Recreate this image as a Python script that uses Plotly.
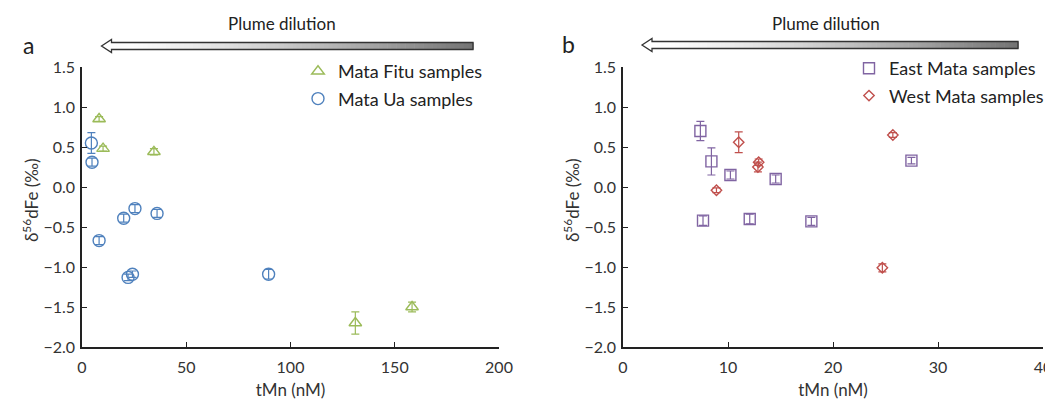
import plotly.graph_objects as go

W, H = 1053, 406
OFF = 8  # page body margin of the browser

# ---------------- data ----------------
fitu_x = [8.2, 10.1, 34.5, 131.1, 158.3]
fitu_y = [0.85, 0.48, 0.44, -1.70, -1.50]
fitu_err = [0.03, 0.03, 0.04, 0.14, 0.06]

ua_x = [4.5, 4.8, 20.0, 25.4, 36.0, 8.2, 22.1, 24.2, 89.5]
ua_y = [0.55, 0.31, -0.39, -0.27, -0.33, -0.67, -1.13, -1.09, -1.09]
ua_err = [0.13, 0.05, 0.05, 0.05, 0.05, 0.05, 0.04, 0.04, 0.06]

east_x = [7.37, 8.42, 10.23, 14.54, 7.62, 12.07, 17.94, 27.47]
east_y = [0.70, 0.32, 0.15, 0.10, -0.42, -0.40, -0.43, 0.33]
east_err = [0.12, 0.17, 0.05, 0.05, 0.06, 0.06, 0.05, 0.04]

west_x = [11.02, 12.92, 12.85, 8.9, 25.7, 24.7]
west_y = [0.56, 0.31, 0.25, -0.04, 0.65, -1.01]
west_err = [0.13, 0.04, 0.06, 0.03, 0.03, 0.05]

y_ticks = [-2.0, -1.5, -1.0, -0.5, 0.0, 0.5, 1.0, 1.5]

GREEN = "#9BBB59"
BLUE = "#4F81BD"
PURPLE = "#8064A2"
RED = "#C0504D"
FONT = "Lato"
TXT = "#333333"

def px(x):
    return (x - OFF) / W

def py(y):
    return 1 - (y - OFF) / H

fig = go.Figure()

def add_series(x, y, err, name, color, symbol, size, xa, ya, legend):
    fig.add_trace(go.Scatter(
        x=x, y=y, mode="markers", name=name,
        xaxis=xa, yaxis=ya, legend=legend, legendgroup=name,
        marker=dict(symbol=symbol, size=size, color=color,
                    line=dict(color=color, width=1.4)),
        error_y=dict(type="data", array=err, visible=True, color=color,
                     thickness=1.2, width=4),
    ))

add_series(fitu_x, fitu_y, fitu_err, "Mata Fitu samples", GREEN, "triangle-up-open", 11, "x", "y", "legend")
add_series(ua_x, ua_y, ua_err, "Mata Ua samples", BLUE, "circle-open", 12, "x", "y", "legend")
add_series(east_x, east_y, east_err, "East Mata samples", PURPLE, "square-open", 11, "x2", "y2", "legend2")
add_series(west_x, west_y, west_err, "West Mata samples", RED, "diamond-open", 8, "x2", "y2", "legend2")

ydom = [py(347), py(67)]
common_axis = dict(showline=True, linecolor="#222", linewidth=1.5, ticks="inside",
                   ticklen=5, tickcolor="#222", showgrid=False, zeroline=False,
                   tickfont=dict(family=FONT, size=16, color=TXT))
xtitle = dict(text="tMn (nM)", font=dict(size=17, color=TXT), standoff=9)

fig.update_layout(
    width=W, height=H, margin=dict(l=0, r=0, t=0, b=0, autoexpand=False),
    paper_bgcolor="white", plot_bgcolor="white",
    font=dict(family=FONT, color=TXT),
    xaxis=dict(domain=[px(82), px(499)], range=[0, 200], dtick=50, anchor="y",
               title=xtitle, ticklabelstandoff=5, **common_axis),
    yaxis=dict(domain=ydom, range=[-2.0, 1.5], tickvals=y_ticks, tickformat=".1f", anchor="x",
               ticklabelstandoff=2, **common_axis),
    xaxis2=dict(domain=[px(623), px(1043)], range=[0, 40], dtick=10, anchor="y2",
                title=xtitle, ticklabelstandoff=5, **common_axis),
    yaxis2=dict(domain=ydom, range=[-2.0, 1.5], tickvals=y_ticks, tickformat=".1f", anchor="x2",
                ticklabelstandoff=2, **common_axis),
    legend=dict(x=px(298), y=py(53), xanchor="left", yanchor="top",
                bgcolor="rgba(0,0,0,0)", font=dict(family=FONT, size=18, color="#222"),
                tracegroupgap=1, itemwidth=30),
    legend2=dict(x=px(849), y=py(50), xanchor="left", yanchor="top",
                 bgcolor="rgba(0,0,0,0)", font=dict(family=FONT, size=18, color="#222"),
                 tracegroupgap=1, itemwidth=30),
    showlegend=True,
)

# ---------------- decorative arrows ----------------
shapes = []
annotations = []

def arrow(x_tip, x_end, y_mid, label_x):
    head_back = x_tip + 10
    sh_top, sh_bot = y_mid - 3.5, y_mid + 3.5
    hd_top, hd_bot = y_mid - 6.5, y_mid + 6.5
    n = 80
    span = x_end - head_back
    for i in range(n):
        t = (i + 0.5) / n
        v = int(round(255 - 140 * t ** 1.3))
        shapes.append(dict(type="rect", xref="paper", yref="paper",
                           x0=px(head_back + span * i / n), x1=px(head_back + span * (i + 1) / n + 0.6),
                           y0=py(sh_bot), y1=py(sh_top), line=dict(width=0),
                           fillcolor=f"rgb({v},{v},{v})", layer="above"))
    pts = [(x_tip, y_mid), (head_back, hd_top), (head_back, sh_top), (x_end, sh_top),
           (x_end, sh_bot), (head_back, sh_bot), (head_back, hd_bot)]
    head = [(x_tip, y_mid), (head_back, hd_top), (head_back, hd_bot)]
    path_h = "M " + " L ".join(f"{px(a)},{py(b)}" for a, b in head) + " Z"
    shapes.append(dict(type="path", xref="paper", yref="paper", path=path_h,
                       fillcolor="white", line=dict(width=0), layer="above"))
    path = "M " + " L ".join(f"{px(a)},{py(b)}" for a, b in pts) + " Z"
    shapes.append(dict(type="path", xref="paper", yref="paper", path=path,
                       line=dict(color="#333", width=1.3), layer="above"))
    annotations.append(dict(text="Plume dilution", x=px(label_x), y=py(23), xref="paper", yref="paper",
                            showarrow=False, font=dict(family=FONT, size=17, color="#222"),
                            xanchor="center", yanchor="middle"))

arrow(101.5, 473, 46, 282)
arrow(642, 1018, 45, 826)

for lbl, xl, yl in [("a", 28, 45), ("b", 568, 44)]:
    annotations.append(dict(text=lbl, x=px(xl), y=py(yl), xref="paper", yref="paper", showarrow=False,
                            font=dict(family=FONT, size=23, color="#222"), xanchor="center", yanchor="middle"))

# y-axis titles
for xt in [30, 571]:
    annotations.append(dict(text="δ<sup>56</sup>dFe (‰)", x=px(xt), y=py(200), xref="paper", yref="paper",
                            showarrow=False, textangle=-90, font=dict(family=FONT, size=17, color=TXT),
                            xanchor="center", yanchor="middle"))

fig.update_layout(shapes=shapes, annotations=annotations)

fig.write_html("out.html")
